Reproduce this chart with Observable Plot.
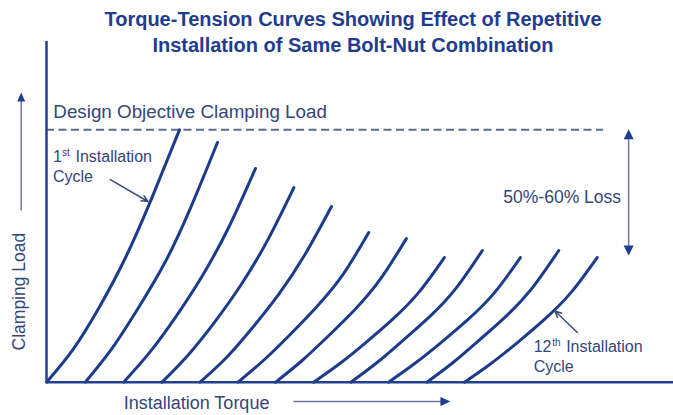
<!DOCTYPE html>
<html><head><meta charset="utf-8">
<script src="https://cdn.jsdelivr.net/npm/d3@7"></script>
<script src="https://cdn.jsdelivr.net/npm/@observablehq/plot@0.6"></script>
<style>
html,body{margin:0;padding:0;background:#fff;overflow:hidden;}
#wrap{position:relative;width:673px;height:415px;}
#title{position:absolute;left:33px;width:640px;top:6px;text-align:center;font:bold 20px/26px "Liberation Sans",Arial,sans-serif;color:#1f3d8f;}
#chart svg{display:block;}
</style></head><body>
<div id="wrap"><div id="chart"></div><div id="title">Torque-Tension Curves Showing Effect of Repetitive<br>Installation of Same Bolt-Nut Combination</div></div>
<script>
// Installation cycles
const cycles = [1, 2, 3, 4, 5, 6, 7, 8, 9, 10, 11, 12];
// Installation torque (arbitrary units) along each curve
const torque = [
  [0, 7, 14, 21, 28, 35],
  [10.2, 17.2, 24.2, 31.2, 38.0, 45],
  [20.3, 27.2, 34.2, 41.1, 48.1, 55],
  [30.4, 37.3, 44.3, 51.2, 58.2, 65.1],
  [40.4, 47.3, 54.2, 61.1, 68.1, 75],
  [50.4, 57.3, 64.2, 71.0, 77.9, 84.8],
  [60.3, 67.2, 74.1, 81.0, 87.8, 94.7],
  [70.3, 77.2, 84.1, 90.9, 97.8, 104.7],
  [80.1, 87.0, 93.9, 100.9, 107.8, 114.7],
  [90, 96.9, 103.9, 110.8, 117.8, 124.7],
  [100.1, 107.0, 113.9, 120.9, 127.8, 134.8],
  [110, 117.0, 124.0, 130.9, 137.9, 144.9]
];
// Clamping load (% of design objective) along each curve
const load = [
  [0, 13, 30, 50, 74, 100],
  [0, 13.3, 29.5, 47.5, 69.4, 95],
  [0, 11.9, 26.3, 42.4, 61.8, 84.7],
  [0, 10.8, 23.9, 38.6, 56.3, 77.1],
  [0, 9.7, 21.6, 34.8, 50.8, 69.6],
  [0, 8.9, 19.0, 29.7, 42.4, 59.3],
  [0, 8.5, 18.2, 28.5, 40.7, 56.9],
  [0, 7.4, 15.8, 24.7, 35.3, 49.4],
  [0, 7.8, 16.7, 26.1, 37.3, 52.2],
  [0, 7.4, 15.8, 24.7, 35.3, 49.4],
  [0, 7.8, 16.7, 26.1, 37.3, 52.2],
  [0, 7.4, 15.8, 24.7, 35.3, 49.4]
];
const designLoad = 100;

const rows = [];
cycles.forEach((c, i) => torque[i].forEach((t, j) => rows.push({cycle: c, torque: t, load: load[i][j]})));

const curveColor = "#1c3b8d";
const axisColor = "#23408e";
const textColor = "#34467a";
const dashColor = "#5d6c8e";
const thinColor = "#6d7996";
const headColor = "#1f3d8f";

const tri = (dir, w, h) => ({
  draw(ctx) {
    ctx.moveTo(0, 0);
    if (dir === "up") { ctx.lineTo(-w / 2, h); ctx.lineTo(w / 2, h); }
    else if (dir === "down") { ctx.lineTo(-w / 2, -h); ctx.lineTo(w / 2, -h); }
    else { ctx.lineTo(-h, -w / 2); ctx.lineTo(-h, w / 2); }
    ctx.closePath();
  }
});

const txt = (s, x, y, o = {}) => Plot.text([s], {
  x, y, text: d => d, fill: textColor, fontSize: 16,
  textAnchor: "start", lineAnchor: "bottom", ...o
});

const chart = Plot.plot({
  width: 673,
  height: 415,
  marginLeft: 46,
  marginRight: 0,
  marginTop: 41,
  marginBottom: 33.3,
  x: {domain: [0, 165], axis: null},
  y: {domain: [0, 135], axis: null},
  style: {fontFamily: "'Liberation Sans', Arial, sans-serif", background: "transparent"},
  marks: [
    Plot.ruleY([designLoad], {x1: 0, x2: 146.6, stroke: dashColor, strokeWidth: 2, strokeDasharray: "8,4.5"}),
    Plot.line(rows, {x: "torque", y: "load", z: "cycle", curve: "natural", stroke: curveColor, strokeWidth: 3}),
    Plot.ruleY([0], {x1: 0, x2: 165, stroke: axisColor, strokeWidth: 2.5}),
    Plot.ruleX([0], {y1: 0, y2: 135, stroke: axisColor, strokeWidth: 2.5}),
    // left axis arrow
    Plot.link([0], {x1: -6.66, y1: 68, x2: -6.66, y2: 112, stroke: thinColor, strokeWidth: 1.5}),
    Plot.dot([0], {x: -6.66, y: 114.8, symbol: tri("up", 8, 9), fill: headColor, stroke: "none"}),
    // bottom axis arrow
    Plot.link([0], {x1: 65, y1: -7.6, x2: 104, y2: -7.6, stroke: thinColor, strokeWidth: 1.5}),
    Plot.dot([0], {x: 106.3, y: -7.6, symbol: tri("right", 9, 10), fill: headColor, stroke: "none"}),
    // loss double arrow
    Plot.link([0], {x1: 153.2, y1: 54, x2: 153.2, y2: 97, stroke: thinColor, strokeWidth: 1.5}),
    Plot.dot([0], {x: 153.2, y: 100.2, symbol: tri("up", 10, 10), fill: headColor, stroke: "none"}),
    Plot.dot([0], {x: 153.2, y: 50.2, symbol: tri("down", 10, 10), fill: headColor, stroke: "none"}),
    // callout arrows
    Plot.arrow([0], {x1: 16.8, y1: 80.3, x2: 26.7, y2: 71.6, stroke: "#3a4c80", strokeWidth: 1.5, headLength: 7, headAngle: 50}),
    Plot.arrow([0], {x1: 139.7, y1: 19.7, x2: 133.8, y2: 28.2, stroke: "#3a4c80", strokeWidth: 1.5, headLength: 7, headAngle: 50}),
    // texts
    txt("Design Objective Clamping Load", 1.8, 104.5, {fontSize: 18.8}),
    txt("1", 1.7, 87.2),
    txt("st", 1.7, 89.6, {fontSize: 10, dx: 9}),
    txt("Installation", 1.7, 87.2, {dx: 22.5}),
    txt("Cycle", 1.7, 79.2),
    txt("50%-60% Loss", 151.2, 71.2, {fontSize: 17.5, textAnchor: "end"}),
    txt("12", 128.2, 11.9),
    txt("th", 128.2, 14.3, {fontSize: 10, dx: 18.5}),
    txt("Installation", 128.2, 11.9, {dx: 32.5}),
    txt("Cycle", 128.2, 4.0),
    txt("Clamping Load", -7.2, 35.9, {fontSize: 17.5, rotate: -90, textAnchor: "middle", lineAnchor: "middle"}),
    txt("Installation Torque", 20.3, -10.6, {fontSize: 18})
  ]
});
document.getElementById("chart").appendChild(chart);
</script></body></html>
